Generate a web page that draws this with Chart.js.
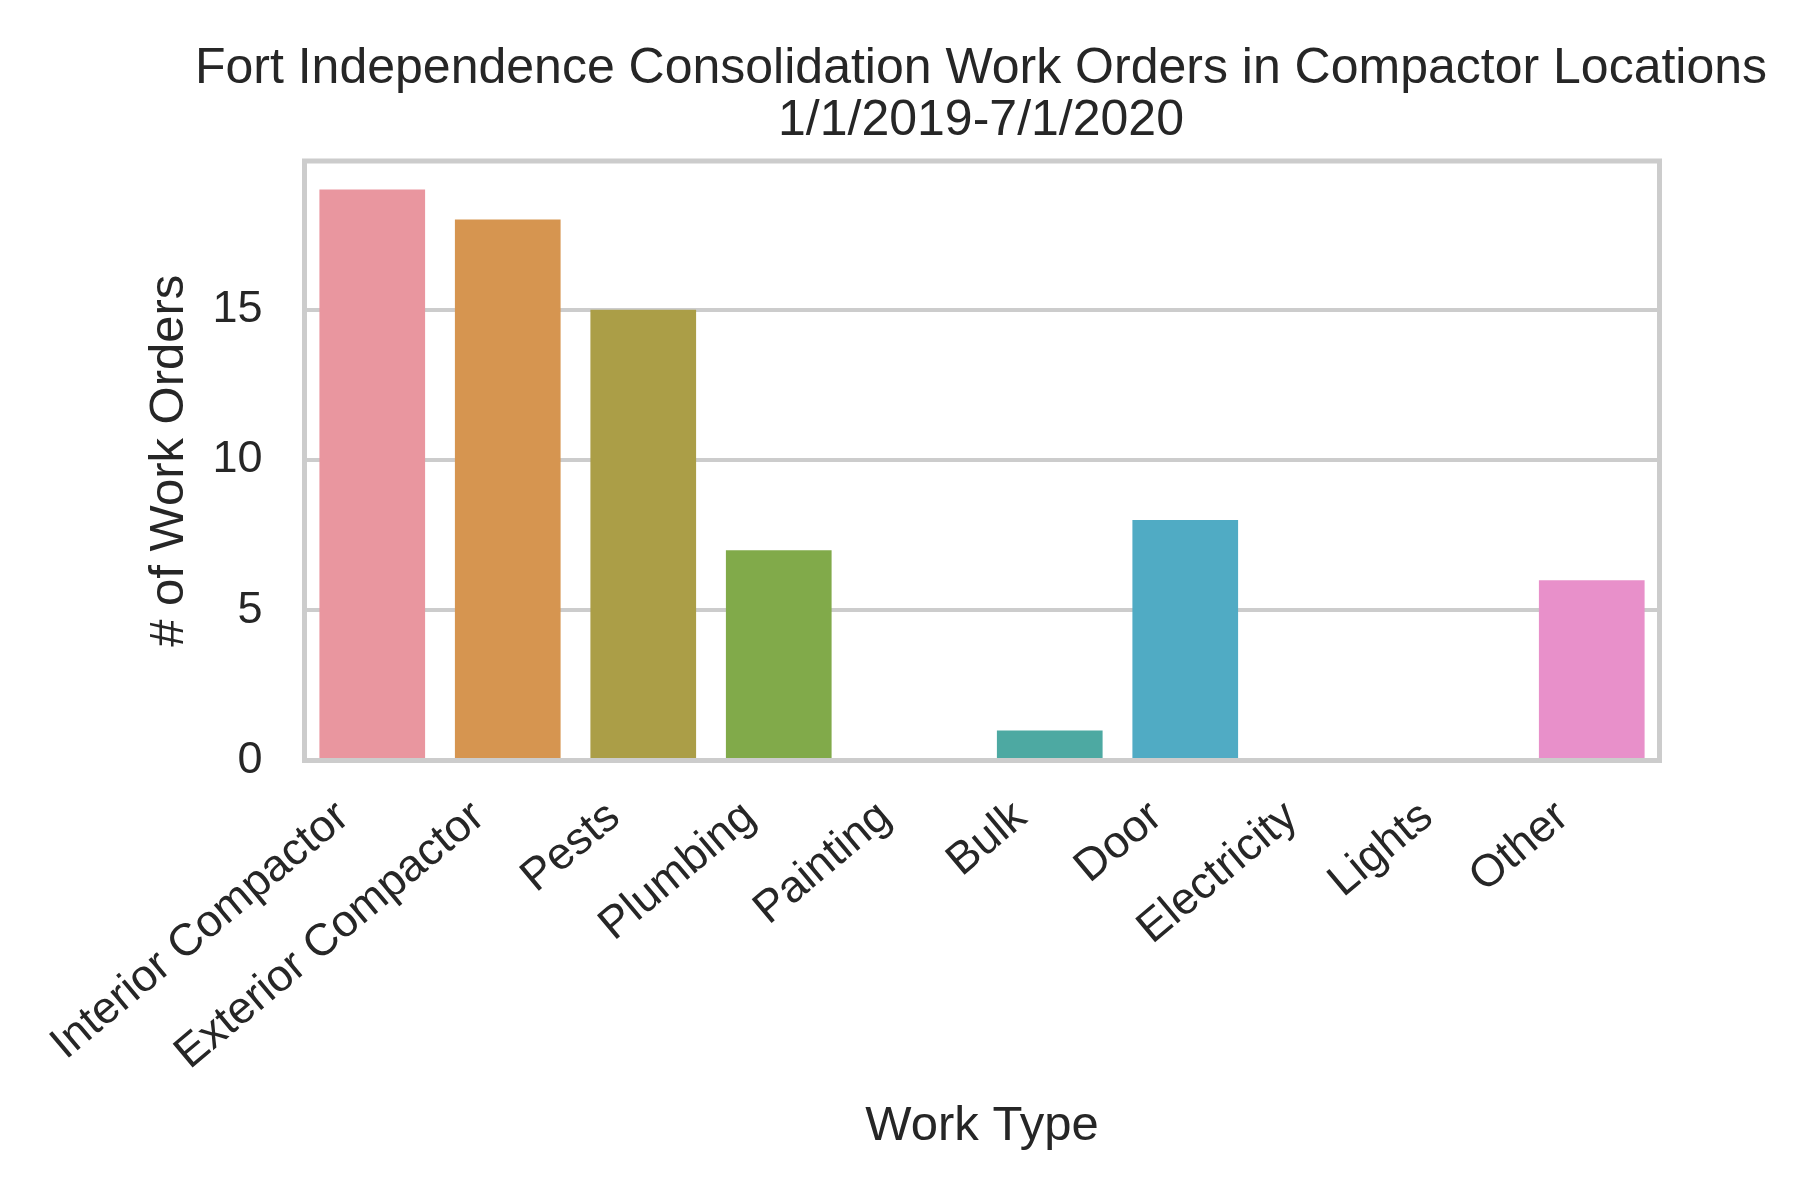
<!DOCTYPE html>
<html>
<head>
<meta charset="utf-8">
<script src="https://cdn.jsdelivr.net/npm/chart.js@4.4.1/dist/chart.umd.min.js"></script>
<style>
  html, body { margin: 0; padding: 0; background: #ffffff; }
  #wrap { width: 1800px; height: 1200px; }
</style>
</head>
<body>
<div id="wrap"><canvas id="chart" width="1800" height="1200"></canvas></div>
<script>
// data
const workTypes = ['Interior Compactor', 'Exterior Compactor', 'Pests', 'Plumbing', 'Painting',
                   'Bulk', 'Door', 'Electricity', 'Lights', 'Other'];
const workOrders = [19, 18, 15, 7, 0, 1, 8, 0, 0, 6];
const barColors = ['#e9969f', '#d69550', '#ab9e47', '#81aa4a', '#50ac82',
                   '#4da9a2', '#50abc4', '#8aa0e2', '#c193e2', '#e890ca'];
const yTicks = [0, 5, 10, 15];
const titleLines = ['Fort Independence Consolidation Work Orders in Compactor Locations', '1/1/2019-7/1/2020'];

const FONT = "'Liberation Sans', Arial, sans-serif";
const TEXT = '#262626';
const GRID = '#cccccc';

// light grey box round the plot area, like the seaborn whitegrid style
const frame = {
  id: 'frame',
  afterDatasetsDraw(chart) {
    const { ctx, chartArea: a } = chart;
    ctx.save();
    ctx.strokeStyle = GRID;
    ctx.lineWidth = 5;
    ctx.strokeRect(a.left, a.top, a.right - a.left, a.bottom - a.top);
    ctx.restore();
  }
};

// title is centred over the plot but is wider than it, so widen its box
const wideTitle = {
  id: 'wideTitle',
  afterLayout(chart) {
    const t = chart.titleBlock;
    const mid = (chart.chartArea.left + chart.chartArea.right) / 2 - 1;
    t.left = mid - 814;
    t.right = mid + 814;
    t.width = 1628;
  }
};

new Chart(document.getElementById('chart'), {
  type: 'bar',
  data: {
    labels: workTypes,
    datasets: [{
      data: workOrders,
      backgroundColor: barColors,
      borderWidth: 0,
      barPercentage: 1,
      categoryPercentage: 0.78
    }]
  },
  options: {
    responsive: false,
    devicePixelRatio: 1,
    animation: false,
    layout: { padding: { top: 43, right: 140.5, bottom: 0, left: 0 } },
    plugins: {
      legend: { display: false },
      tooltip: { enabled: false },
      title: {
        display: true,
        fullSize: false,
        text: titleLines,
        color: TEXT,
        font: { family: FONT, size: 50, weight: 'normal', lineHeight: 1.04 },
        padding: { top: 0, bottom: 14 }
      }
    },
    scales: {
      x: {
        afterFit(s) { s.height = 439.5; },
        grid: { display: false, drawTicks: false },
        border: { display: false },
        ticks: {
          autoSkip: false,
          maxRotation: 40,
          minRotation: 40,
          padding: 30,
          labelOffset: -29,
          color: TEXT,
          font: { family: FONT, size: 45 }
        },
        title: {
          display: true,
          text: 'Work Type',
          color: TEXT,
          font: { family: FONT, size: 49 },
          padding: { top: 0, bottom: 44 }
        }
      },
      y: {
        min: 0,
        max: 19.95,
        afterFit(s) { s.width = 304.5; },
        afterBuildTicks(s) { s.ticks = yTicks.map(v => ({ value: v })); },
        grid: { color: GRID, lineWidth: 4, drawTicks: false },
        border: { display: false },
        ticks: {
          padding: 42,
          color: TEXT,
          font: { family: FONT, size: 45 }
        },
        title: {
          display: true,
          text: '# of Work Orders',
          color: TEXT,
          font: { family: FONT, size: 49 },
          padding: { top: 140, bottom: 0 }
        }
      }
    }
  },
  plugins: [frame, wideTitle]
});
</script>
</body>
</html>
